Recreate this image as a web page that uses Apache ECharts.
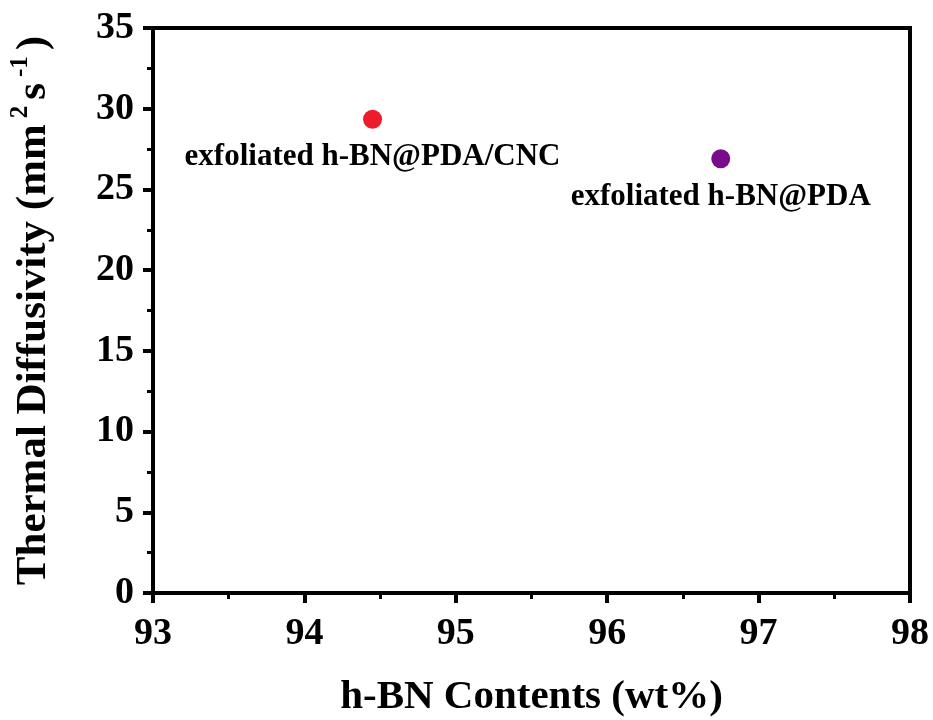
<!DOCTYPE html>
<html><head><meta charset="utf-8">
<script src="https://cdn.jsdelivr.net/npm/echarts@6/dist/echarts.min.js"></script>
<style>html,body{margin:0;padding:0;background:#fff}#c{width:933px;height:720px}</style>
</head><body><div id="c"></div>
<script>
var names = ['exfoliated h-BN@PDA/CNC', 'exfoliated h-BN@PDA'];
var xValues = [94.45, 96.75];
var yValues = [29.35, 26.9];
var colors = ['#ee1c2a', '#7a0b8c'];
var xTicks = [93, 94, 95, 96, 97, 98];
var yTicks = [0, 5, 10, 15, 20, 25, 30, 35];

var font = 'Liberation Serif';
var chart = echarts.init(document.getElementById('c'));
var series = names.map(function (n, i) {
  return {
    type: 'scatter', name: n, symbolSize: 19,
    itemStyle: {color: colors[i], opacity: 1},
    data: [[xValues[i], yValues[i]]],
    label: {show: true, position: 'bottom', distance: 13, formatter: n,
      fontFamily: font, fontWeight: 'bold', fontSize: 31, color: '#000'}
  };
});
chart.setOption({
  animation: false,
  grid: {left: 153, right: 23, top: 28, bottom: 127, show: true, borderColor: '#000', borderWidth: 4,
    backgroundColor: 'transparent', outerBoundsMode: 'none', containLabel: false},
  xAxis: {
    type: 'value', min: xTicks[0], max: xTicks[xTicks.length - 1], interval: 1,
    name: 'h-BN Contents (wt%)', nameLocation: 'middle', nameGap: 84,
    nameTextStyle: {fontFamily: font, fontWeight: 'bold', fontSize: 41, color: '#000'},
    axisLine: {lineStyle: {color: '#000', width: 4}},
    axisTick: {length: 10, lineStyle: {width: 4, color: '#000'}},
    minorTick: {show: true, splitNumber: 2, length: 6, lineStyle: {width: 3, color: '#000'}},
    splitLine: {show: false},
    axisLabel: {fontFamily: font, fontWeight: 'bold', fontSize: 38, color: '#000', margin: 22}
  },
  yAxis: {
    type: 'value', min: yTicks[0], max: yTicks[yTicks.length - 1], interval: 5,
    name: '{t|Thermal Diffusivity (mm}{s|2}{t|s}{s|-1}{t|)}', nameLocation: 'middle', nameGap: 94, nameRotate: 90,
    nameTextStyle: {rich: {
      t: {fontFamily: font, fontWeight: 'bold', fontSize: 43, color: '#000'},
      s: {fontFamily: font, fontWeight: 'bold', fontSize: 25, color: '#000', verticalAlign: 'top', padding: [0, 6, 26, 6]}
    }},
    axisLine: {lineStyle: {color: '#000', width: 4}},
    axisTick: {length: 10, lineStyle: {width: 4, color: '#000'}},
    minorTick: {show: true, splitNumber: 2, length: 6, lineStyle: {width: 3, color: '#000'}},
    splitLine: {show: false},
    axisLabel: {fontFamily: font, fontWeight: 'bold', fontSize: 38, color: '#000', margin: 19}
  },
  series: series
});
</script></body></html>
